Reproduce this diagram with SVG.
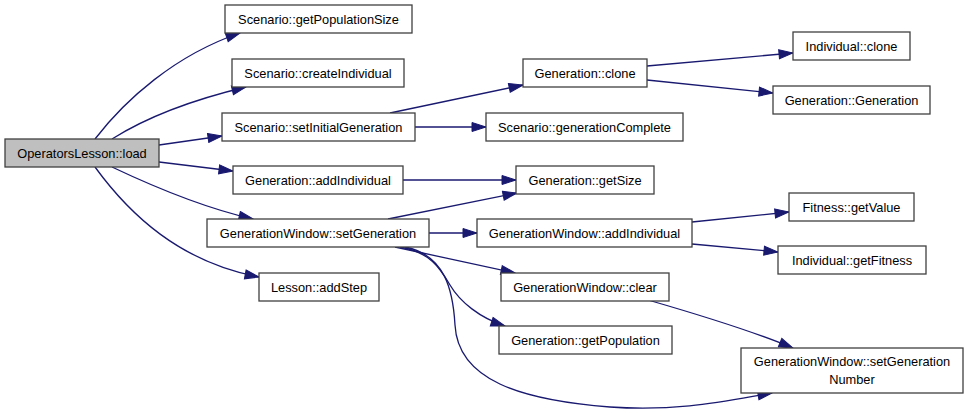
<svg xmlns="http://www.w3.org/2000/svg" width="968" height="414" viewBox="0 0 968 414">
<style>
.box{fill:#ffffff;stroke:#404040;stroke-width:1.3}
.root{fill:#bfbfbf;stroke:#404040;stroke-width:1.3}
text{font-family:"Liberation Sans",Arial,Helvetica,sans-serif;font-size:12.8px;fill:#000;text-anchor:middle}
.edge{fill:none;stroke:#191970;stroke-width:1.3;marker-end:url(#arr)}
</style>
<defs>
<marker id="arr" markerUnits="userSpaceOnUse" markerWidth="16" markerHeight="11" refX="14" refY="5" orient="auto" viewBox="-1 0 16 10">
<path d="M0,0.5 L14,5 L0,9.5 z" fill="#191970" stroke="#191970" stroke-width="1"/>
</marker>
</defs>
<rect width="968" height="414" fill="#ffffff"/>
<g id="connectors">
<path class="edge" d="M95,139 C125,100 175,55 240,33"/>
<path class="edge" d="M112,139 C150,115 200,98 246,87"/>
<path class="edge" d="M159,145 L222,136"/>
<path class="edge" d="M159,162 L233,171"/>
<path class="edge" d="M112,167 C150,185 200,207 253,219"/>
<path class="edge" d="M95,167 C130,215 180,262 259,277"/>
<path class="edge" d="M390,113 L523,85"/>
<path class="edge" d="M415,127 L486,127"/>
<path class="edge" d="M647,66 L793,53"/>
<path class="edge" d="M647,80 L773,93"/>
<path class="edge" d="M403,180 L516,180"/>
<path class="edge" d="M388,219 L517,193"/>
<path class="edge" d="M429,233 L477,233"/>
<path class="edge" d="M395,247 L515,273"/>
<path class="edge" d="M400,247 C430,252 440,268 450,285 C460,302 480,318 505,326"/>
<path class="edge" d="M405,247 C445,255 453,290 455,325 C458,380 520,400 610,407 C680,412 730,400 772,393"/>
<path class="edge" d="M692,222 L789,212"/>
<path class="edge" d="M692,244 L778,252"/>
<path class="edge" d="M648,300 C700,315 750,330 793,348"/>
</g>
<g id="n_load"><rect class="root" x="5" y="139" width="154" height="28"/><text x="82" y="157.6">OperatorsLesson::load</text></g>
<g id="n_getPopulationSize"><rect class="box" x="225" y="5" width="187" height="28"/><text x="318.5" y="23.6">Scenario::getPopulationSize</text></g>
<g id="n_createIndividual"><rect class="box" x="232" y="59" width="172" height="28"/><text x="318" y="77.6">Scenario::createIndividual</text></g>
<g id="n_setInitialGeneration"><rect class="box" x="222" y="113" width="193" height="28"/><text x="318.5" y="131.6">Scenario::setInitialGeneration</text></g>
<g id="n_gen_addIndividual"><rect class="box" x="233" y="166" width="170" height="28"/><text x="318" y="184.6">Generation::addIndividual</text></g>
<g id="n_gw_setGeneration"><rect class="box" x="207" y="219" width="222" height="28"/><text x="318" y="237.6">GenerationWindow::setGeneration</text></g>
<g id="n_addStep"><rect class="box" x="259" y="273" width="120" height="28"/><text x="319" y="291.6">Lesson::addStep</text></g>
<g id="n_gen_clone"><rect class="box" x="523" y="59" width="124" height="28"/><text x="585" y="77.6">Generation::clone</text></g>
<g id="n_generationComplete"><rect class="box" x="486" y="113" width="197" height="28"/><text x="584.5" y="131.6">Scenario::generationComplete</text></g>
<g id="n_getSize"><rect class="box" x="516" y="166" width="138" height="28"/><text x="585" y="184.6">Generation::getSize</text></g>
<g id="n_gw_addIndividual"><rect class="box" x="477" y="219" width="215" height="28"/><text x="584.5" y="237.6">GenerationWindow::addIndividual</text></g>
<g id="n_gw_clear"><rect class="box" x="501" y="273" width="168" height="28"/><text x="585" y="291.6">GenerationWindow::clear</text></g>
<g id="n_getPopulation"><rect class="box" x="499" y="326" width="173" height="28"/><text x="585.5" y="344.6">Generation::getPopulation</text></g>
<g id="n_ind_clone"><rect class="box" x="793" y="32" width="117" height="28"/><text x="851.5" y="50.6">Individual::clone</text></g>
<g id="n_gen_ctor"><rect class="box" x="773" y="86" width="157" height="28"/><text x="851.5" y="104.6">Generation::Generation</text></g>
<g id="n_getValue"><rect class="box" x="789" y="193" width="125" height="28"/><text x="851.5" y="211.6">Fitness::getValue</text></g>
<g id="n_getFitness"><rect class="box" x="778" y="246" width="148" height="28"/><text x="852" y="264.6">Individual::getFitness</text></g>
<g id="n_setGenerationNumber"><rect class="box" x="741" y="348" width="222" height="45"/><text x="852" y="365.6">GenerationWindow::setGeneration</text><text x="852" y="383.6">Number</text></g>
</svg>
